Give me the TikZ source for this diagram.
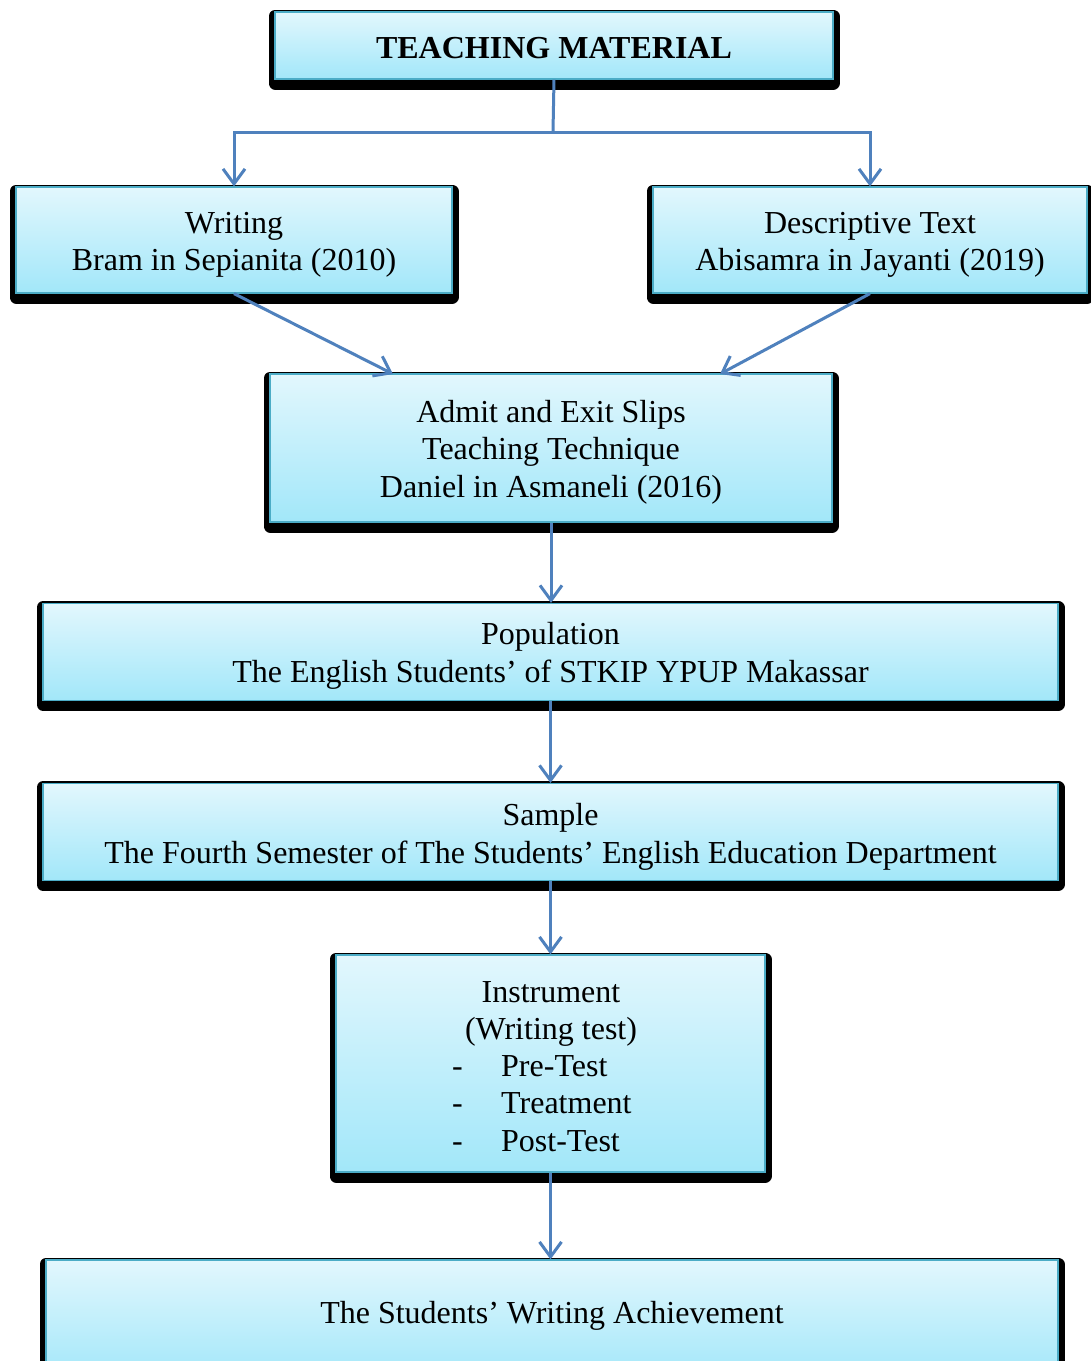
\documentclass[tikz,border=0pt]{standalone}
\usepackage{fontspec}
\setmainfont{Liberation Serif}
\usetikzlibrary{arrows.meta, positioning}

\definecolor{boxtop}{HTML}{E2F7FD}
\definecolor{boxbot}{HTML}{A2E7F9}
\definecolor{boxline}{HTML}{4BACC6}
\definecolor{arrowblue}{HTML}{4F81BD}

\tikzset{
  box/.style={draw=boxline, line width=1.2pt, top color=boxtop, bottom color=boxbot,
    inner sep=0pt,
    preaction={draw=black, fill=black, line width=13pt, line join=round,
      transform canvas={yshift=-4pt}}},
  txt/.style={inner sep=0pt, align=center, font=\fontsize{32}{37.5}\selectfont},
  link/.style={draw=arrowblue, line width=3pt},
  arr/.style={link, -{Straight Barb[length=15pt, width=22pt, line width=3pt]}}
}

\begin{document}
\begin{tikzpicture}[x=1pt, y=-1pt]
  \clip (0,0) rectangle (1091,1361);
  \fill[white] (0,0) rectangle (1091,1361);

  % boxes
  \node[box, minimum width=558pt, minimum height=67pt] (tm) at (554,45.5) {};
  \node[box, minimum width=436pt, minimum height=106pt] (wr) at (234,240) {};
  \node[box, minimum width=434pt, minimum height=106pt] (dt) at (870,240) {};
  \node[box, minimum width=562pt, minimum height=148pt] (ad) at (551,448) {};
  \node[box, minimum width=1015pt, minimum height=97pt] (pop) at (550.5,652) {};
  \node[box, minimum width=1015pt, minimum height=97pt] (sam) at (550.5,832) {};
  \node[box, minimum width=429pt, minimum height=217pt] (ins) at (550.5,1063.5) {};
  \node[box, minimum width=1012pt, minimum height=120pt] (ach) at (552,1320) {};

  % texts
  \node[txt] (tm-t) at ([yshift=-3pt]tm.center) {\textbf{TEACHING MATERIAL}};
  \node[txt] (wr-t) at ([yshift=-5pt]wr.center) {Writing\\Bram in Sepianita (2010)};
  \node[txt] (dt-t) at ([yshift=-5pt]dt.center) {Descriptive Text\\Abisamra in Jayanti (2019)};
  \node[txt] (ad-t) at ([yshift=-4pt]ad.center) {Admit and Exit Slips\\Teaching Technique\\Daniel in Asmaneli (2016)};
  \node[txt] (pop-t) at ([yshift=-4pt]pop.center) {Population\\The English Students’ of STKIP YPUP Makassar};
  \node[txt] (sam-t) at ([yshift=-5pt]sam.center) {Sample\\The Fourth Semester of The Students’ English Education Department};
  \node[txt] (ach-t) at (552,1316) {The Students’ Writing Achievement};
  \node[txt] (ins-t) at (551,1014) {Instrument\\(Writing test)};
  \foreach \y/\item [count=\k] in {1076/Pre-Test, 1113/Treatment, 1151/Post-Test} {
    \node[txt, anchor=base west] (dash\k) at (452,\y) {-};
    \node[txt, anchor=base west] (item\k) at (501,\y) {\item};
  }

  % connectors
  \coordinate (split) at (553,132);
  \coordinate (ad-l) at (393,374);
  \coordinate (ad-r) at (720,374);
  \draw[link] (tm.south) -- (split);
  \draw[arr] (split) -| (wr.north);
  \draw[arr] (split) -| (dt.north);
  \draw[arr] (wr.south) -- (ad-l);
  \draw[arr] (dt.south) -- (ad-r);
  \draw[arr] (ad.south) -- (ad.south |- pop.north);
  \draw[arr] (pop.south) -- (pop.south |- sam.north);
  \draw[arr] (sam.south) -- (sam.south |- ins.north);
  \draw[arr] (ins.south) -- (ins.south |- ach.north);
\end{tikzpicture}
\end{document}
